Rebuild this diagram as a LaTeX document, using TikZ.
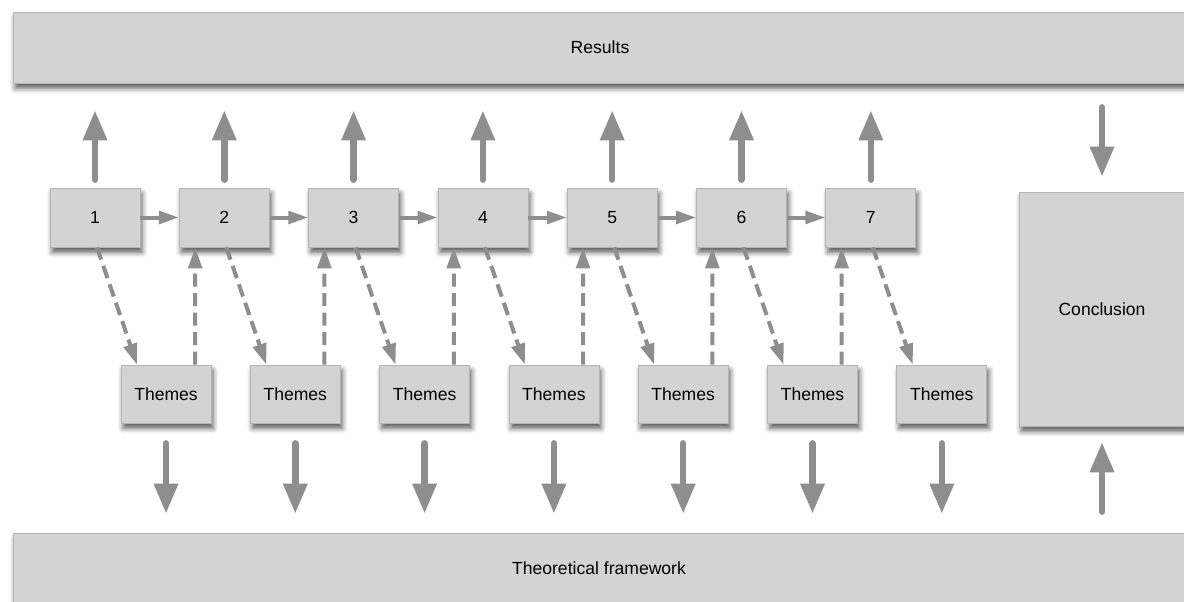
\documentclass[tikz,border=0pt]{standalone}
\usepackage{fontspec}
\setmainfont{Liberation Sans}
\usetikzlibrary{arrows.meta,shadows.blur,calc}
\definecolor{boxgray}{HTML}{D3D3D3}
\definecolor{linegray}{HTML}{B4B4B4}
\definecolor{arrowgray}{HTML}{8E8E8E}

\begin{document}
\begin{tikzpicture}[x=0.02cm, y=0.02cm,
    box/.style={rectangle, draw=linegray, line width=0.4pt, fill=boxgray,
        blur shadow={shadow xshift=1.2pt, shadow yshift=-3pt, shadow blur radius=3pt, shadow opacity=65}},
    stepbox/.style={box, minimum width=1.8cm, minimum height=1.18cm},
    themebox/.style={box, minimum width=1.8cm, minimum height=1.16cm},
    bigarrow/.style={draw=arrowgray, line width=0.13cm, line cap=round, -{Triangle[length=0.6cm, width=0.46cm]}},
    smallarrow/.style={draw=arrowgray, line width=0.08cm, -{Triangle[length=0.4cm, width=0.25cm]}},
    dasharrow/.style={draw=arrowgray, line width=0.08cm, dash pattern=on 0.26cm off 0.13cm, -{Triangle[length=0.42cm, width=0.27cm]}}
]
\useasboundingbox (0,0) rectangle (1184,-602);

% BARRE
\node[box, minimum width=23.48cm, minimum height=1.42cm] (results) at (600,-47.5) {Results};
\node[box, minimum width=23.44cm, minimum height=1.4cm] (frame) at (599,-568) {Theoretical framework};
\node[box, minimum width=3.32cm, minimum height=4.68cm] (concl) at (1102,-309) {Conclusion};

% PASSI E TEMI
\foreach \i in {1,...,7} {
    \node[stepbox] (b\i) at ({95+129.3*(\i-1)},-217.5) {\i};
    \node[themebox] (t\i) at ({166+129.3*(\i-1)},-394) {Themes};
}

% FRECCE
\foreach \i in {1,...,7} {
    \draw[bigarrow, shorten <=0.16cm, shorten >=0.54cm] (b\i.north) -- (b\i.north |- results.south);
    \draw[bigarrow, shorten <=0.4cm, shorten >=0.38cm] (t\i.south) -- (t\i.south |- frame.north);
    \draw[dasharrow] ($(b\i.south)+(2,0)$) -- ($(t\i.north)+(-29,0)$);
}
\foreach \i [count=\j from 2] in {1,...,6} {
    \draw[smallarrow] (b\i.east) -- (b\j.west);
    \draw[dasharrow] ($(t\i.north)+(29.15,0)$) -- ($(b\j.south)+(-29.15,0)$);
}

% CONCLUSIONE
\draw[bigarrow, shorten <=0.48cm, shorten >=0.3cm] (concl.north |- results.south) -- (concl.north);
\draw[bigarrow, shorten <=0.42cm, shorten >=0.32cm] (concl.south |- frame.north) -- (concl.south);

\end{tikzpicture}
\end{document}
